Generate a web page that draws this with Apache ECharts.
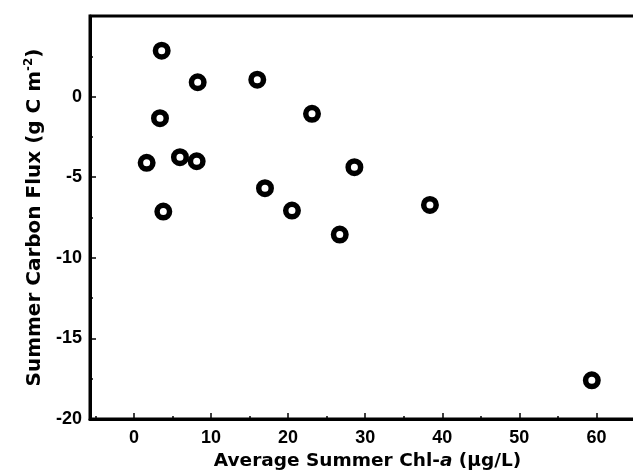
<!DOCTYPE html>
<html>
<head>
<meta charset="utf-8">
<script src="https://cdn.jsdelivr.net/npm/echarts@6/dist/echarts.min.js"></script>
<style>
	html, body { margin: 0; padding: 0; background: #fff; }
	#chart { width: 633px; height: 475px; }
</style>
</head>
<body>
<div id="chart"></div>
<script>
// average summer Chl-a (ug/L) and summer carbon flux (g C m-2)
var chlA = [3.6, 8.27, 3.38, 1.65, 5.97, 8.14, 3.81, 16.0, 23.1, 28.6, 17.0, 20.5, 26.7, 38.4, 59.4];
var carbonFlux = [2.85, 0.89, -1.34, -4.11, -3.76, -4.01, -7.13, 1.05, -1.07, -4.38, -5.68, -7.07, -8.56, -6.72, -17.6];

var xTicks = [0, 10, 20, 30, 40, 50, 60];
var xMinorTicks = [-5, 5, 15, 25, 35, 45, 55, 65];
var yTicks = [-20, -15, -10, -5, 0];

(function () {
	var myChart = echarts.init(document.getElementById('chart'), null, { renderer: 'canvas' });

	var points = chlA.map(function (x, i) {
		return [x, carbonFlux[i]];
	});

	var tickFont = 'Liberation Sans, Arial, sans-serif';
	var titleFont = 'DejaVu Sans, sans-serif';

	var option = {
		animation: false,
		backgroundColor: '#fff',
		grid: {
			left: 90,
			right: -12,
			top: 16,
			bottom: 56,
			outerBoundsMode: 'none',
			containLabel: false,
			show: true,
			borderColor: '#000',
			borderWidth: 3
		},
		xAxis: [{
			type: 'value',
			min: -5.7,
			max: 66.3,
			name: '{t|Average Summer Chl-}{it|a}{t| (μg/L)}',
			nameLocation: 'middle',
			nameGap: 33,
			nameTextStyle: {
				rich: {
					t: { fontFamily: titleFont, fontWeight: 'bold', fontSize: 18.5, color: '#000' },
					it: { fontFamily: titleFont, fontWeight: 'bold', fontStyle: 'italic', fontSize: 18.5, color: '#000' }
				}
			},
			axisLine: { onZero: false, lineStyle: { color: '#000', width: 3 } },
			axisTick: { inside: true, length: 6, customValues: xTicks, lineStyle: { color: '#000', width: 1.5 } },
			splitLine: { show: false },
			axisLabel: {
				margin: 10,
				customValues: xTicks,
				fontFamily: tickFont,
				fontWeight: 'bold',
				fontSize: 18,
				color: '#000'
			}
		}, {
			// minor ticks only
			type: 'value',
			position: 'bottom',
			min: -5.7,
			max: 66.3,
			axisLine: { show: false, onZero: false },
			axisTick: { inside: true, length: 3, customValues: xMinorTicks, lineStyle: { color: '#000', width: 1.5 } },
			axisLabel: { show: false },
			splitLine: { show: false }
		}],
		yAxis: {
			type: 'value',
			min: -20,
			max: 5,
			interval: 5,
			name: '{t|Summer Carbon Flux (g C m}{sup|-2}{t|)}',
			nameLocation: 'middle',
			nameGap: 36,
			nameTextStyle: {
				rich: {
					t: { fontFamily: titleFont, fontWeight: 'bold', fontSize: 20, color: '#000', lineHeight: 24 },
					sup: { fontFamily: titleFont, fontWeight: 'bold', fontSize: 12, color: '#000', verticalAlign: 'top', lineHeight: 24 }
				}
			},
			axisLine: { onZero: false, lineStyle: { color: '#000', width: 3 } },
			axisTick: { inside: true, length: 6, lineStyle: { color: '#000', width: 1.5 } },
			minorTick: { show: true, splitNumber: 2, length: 3, lineStyle: { color: '#000', width: 1.5 } },
			splitLine: { show: false },
			axisLabel: {
				margin: 8,
				fontFamily: tickFont,
				fontWeight: 'bold',
				fontSize: 18,
				color: '#000',
				formatter: function (v) {
					return yTicks.indexOf(v) >= 0 ? String(v) : '';
				}
			}
		},
		series: [{
			type: 'scatter',
			data: points,
			symbol: 'circle',
			symbolSize: 12.5,
			itemStyle: {
				color: '#fff',
				borderColor: '#000',
				borderWidth: 5.5,
				opacity: 1
			}
		}]
	};

	myChart.setOption(option);
})();
</script>
</body>
</html>
